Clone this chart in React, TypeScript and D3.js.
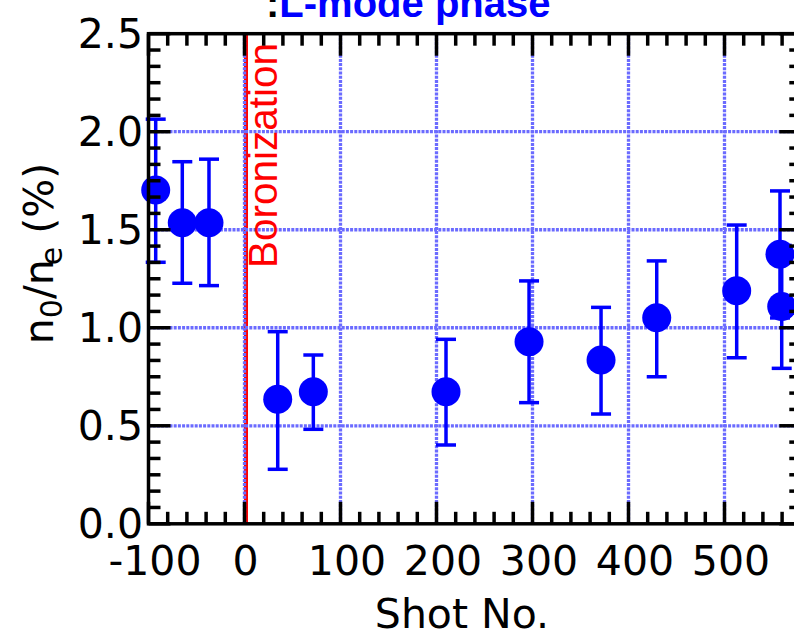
import React from 'react';
import * as d3 from 'd3';

// shot number relative to boronization, neutral density ratio (%)
const shots = [-92.5, -64.8, -37, 34.6, 71.7, 209.9, 296.4, 371.4, 429.4, 512.7, 557.8, 559.6];
const ratio = [1.703, 1.536, 1.536, 0.635, 0.674, 0.674, 0.929, 0.836, 1.051, 1.189, 1.375, 1.108];
const errHigh = [2.064, 1.847, 1.86, 0.98, 0.861, 0.941, 1.239, 1.104, 1.341, 1.524, 1.698, 1.42];
const errLow = [1.334, 1.227, 1.215, 0.278, 0.482, 0.402, 0.618, 0.56, 0.75, 0.847, 1.05, 0.793];

const xTicks = [-100, 0, 100, 200, 300, 400, 500];
const yTicks = [0, 0.5, 1.0, 1.5, 2.0, 2.5];
const boronizationShot = 0;

const W = 794, H = 632;
const left = 148.5, top = 33.7, right = 801.3, bottom = 523.8;

export default function App() {
  const x = d3.scaleLinear().domain([-100, 580]).range([left, right]);
  const y = d3.scaleLinear().domain([0, 2.5]).range([bottom, top]);

  const xMinor = d3.range(-100, 581, 20).filter(v => !xTicks.includes(v));
  const yMinor = d3.range(0, 31).map(i => i * 0.5 / 6).filter((v, i) => i % 6 !== 0);

  const grid = '#6b6bff';
  const tickFont = 'DejaVu Sans, Verdana, sans-serif';

  return (
    <svg width={W} height={H} style={{ position: 'absolute', left: 0, top: 0, background: '#fff' }}>
      {/* boronization marker */}
      <line x1={x(boronizationShot) + 1.5} x2={x(boronizationShot) + 1.5} y1={top} y2={bottom}
        stroke="#ff0000" strokeWidth={4} />

      {/* grid */}
      <g stroke={grid} strokeWidth={3.3} strokeDasharray="3 1.2">
        {xTicks.filter(v => v > -100).map(v => (
          <line key={'gx' + v} x1={x(v)} x2={x(v)} y1={top} y2={bottom} />
        ))}
        {yTicks.filter(v => v > 0 && v < 2.5).map(v => (
          <line key={'gy' + v} x1={left} x2={right} y1={y(v)} y2={y(v)} />
        ))}
      </g>

      <text transform={`translate(277,268) rotate(-90)`} fill="#ff0000"
        fontFamily="Liberation Sans, Arial, sans-serif" fontSize={40.5}>Boronization</text>

      {/* error bars and points */}
      <g stroke="#0000ff" strokeWidth={3.5}>
        {shots.map((s, i) => (
          <g key={'e' + i}>
            <line x1={x(s)} x2={x(s)} y1={y(errLow[i])} y2={y(errHigh[i])} />
            <line x1={x(s) - 10} x2={x(s) + 10} y1={y(errLow[i])} y2={y(errLow[i])} />
            <line x1={x(s) - 10} x2={x(s) + 10} y1={y(errHigh[i])} y2={y(errHigh[i])} />
          </g>
        ))}
      </g>
      {shots.map((s, i) => (
        <circle key={'p' + i} cx={x(s)} cy={y(ratio[i])} r={14.5} fill="#0000ff" />
      ))}

      {/* ticks */}
      <g stroke="#000" strokeWidth={3.5}>
        {xTicks.map(v => (
          <g key={'tx' + v}>
            <line x1={x(v)} x2={x(v)} y1={bottom} y2={bottom - 22} />
            <line x1={x(v)} x2={x(v)} y1={top} y2={top + 22} />
          </g>
        ))}
        {xMinor.map(v => (
          <g key={'mx' + v}>
            <line x1={x(v)} x2={x(v)} y1={bottom} y2={bottom - 12} />
            <line x1={x(v)} x2={x(v)} y1={top} y2={top + 12} />
          </g>
        ))}
        {yTicks.map(v => (
          <g key={'ty' + v}>
            <line x1={left} x2={left + 22} y1={y(v)} y2={y(v)} />
            <line x1={right} x2={right - 22} y1={y(v)} y2={y(v)} />
          </g>
        ))}
        {yMinor.map(v => (
          <g key={'my' + v}>
            <line x1={left} x2={left + 12} y1={y(v)} y2={y(v)} />
            <line x1={right} x2={right - 12} y1={y(v)} y2={y(v)} />
          </g>
        ))}
        <rect x={left} y={top} width={right - left} height={bottom - top} fill="none" />
      </g>

      {/* tick labels */}
      <g fontFamily={tickFont} fontSize={41} fill="#000">
        {xTicks.map(v => (
          <text key={'lx' + v} x={x(v) + (String(v).length > 1 ? 6.5 : 1)} y={575} textAnchor="middle">{v}</text>
        ))}
        {yTicks.map(v => (
          <text key={'ly' + v} x={143} y={y(v) + 14} textAnchor="end">{v.toFixed(1)}</text>
        ))}
        <text x={462} y={628} textAnchor="middle">Shot No.</text>
        <text transform="translate(53,253.5) rotate(-90)" textAnchor="middle">
          n<tspan fontSize={30} dy={9}>0</tspan><tspan dy={-9}>/n</tspan>
          <tspan fontSize={30} dy={9} dx={-6}>e</tspan><tspan dy={-9}> (%)</tspan>
        </text>
      </g>

      {/* title */}
      <text x={266} y={17} fontFamily="Liberation Sans, Arial, sans-serif" fontWeight="bold" fontSize={40}>
        <tspan fill="#000">:</tspan><tspan fill="#0000ff">L-mode phase</tspan>
      </text>
    </svg>
  );
}
